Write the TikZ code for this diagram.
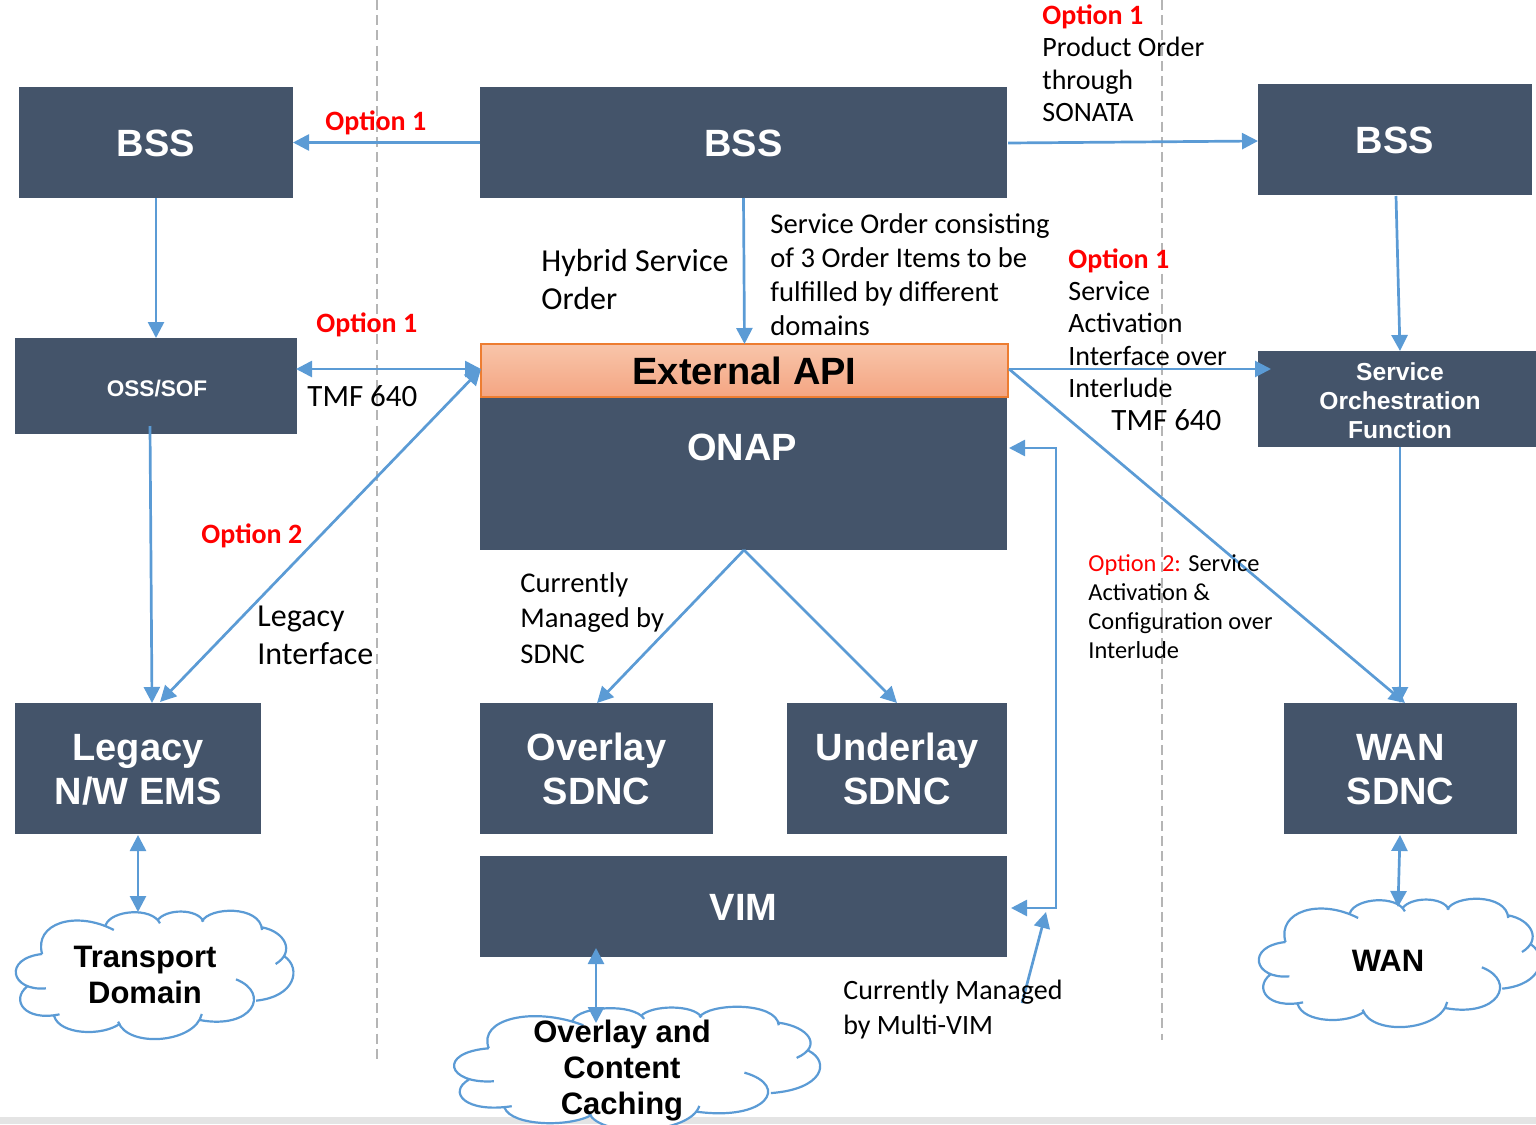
\documentclass[tikz,border=0pt]{standalone}
\usepackage{fontspec}
\setmainfont{Liberation Sans}
\newfontfamily\calfont{Carlito}
\usetikzlibrary{arrows.meta}
\definecolor{boxc}{HTML}{44546A}
\definecolor{linec}{HTML}{5B9BD5}
\definecolor{dashc}{HTML}{B5B5B5}
\definecolor{bandc}{HTML}{E4E4E4}
\definecolor{optred}{HTML}{FF0000}
\definecolor{apiedge}{HTML}{ED7D31}
\definecolor{apitop}{HTML}{F8C5AA}
\definecolor{apibot}{HTML}{F4A582}
\def\cloudsegs#1{(78,222) .. controls (62,130) and (140,90) .. (210,150) #1
 (195,135) .. controls (205,90) and (280,80) .. (295,130) #1
 (290,122) .. controls (305,85) and (365,85) .. (375,125) #1
 (372,125) .. controls (385,80) and (480,75) .. (483,150) #1
 (483,142) .. controls (525,155) and (545,215) .. (508,252) #1
 (525,230) .. controls (555,265) and (545,350) .. (472,362) #1
 (435,298) .. controls (500,340) and (465,450) .. (368,420) #1
 (372,402) .. controls (360,490) and (235,505) .. (218,425) #1
 (222,430) .. controls (190,470) and (110,465) .. (100,408) #1
 (110,403) .. controls (45,425) and (20,360) .. (50,320) #1
 (85,325) .. controls (20,335) and (5,235) .. (78,222)}
\newcommand\mycloud[4]{\begin{scope}[shift={(#1,#2)},xscale=#3,yscale=#4,shift={(-28,-93)}]
 \fill[white] \cloudsegs{--} -- cycle;
 \draw[cloudline] \cloudsegs{};
\end{scope}}
\newcommand\dn[1]{\rule{0pt}{#1}}
\tikzset{
 x=0.5pt,y=-0.5pt,
 box/.style={fill=boxc,text=white,inner sep=0,outer sep=0,align=center,font=\bfseries\fontsize{19}{22}\selectfont},
 cloudline/.style={draw=linec,line width=1.1pt},
 conn/.style={draw=linec,line width=1.35pt,-{Triangle[length=8pt,width=8pt]}},
 both/.style={draw=linec,line width=1.35pt,{Triangle[length=8pt,width=8pt]}-{Triangle[length=8pt,width=8pt]}},
 sep/.style={draw=dashc,line width=1.3pt,dash pattern=on 5pt off 2.6pt},
 txt/.style={anchor=west,align=left,inner sep=0,font=\calfont\fontsize{14}{16.2}\selectfont},
 wide/.style={anchor=west,align=left,inner sep=0,font=\calfont\fontsize{14.3}{17.2}\selectfont},
 big/.style={anchor=west,align=left,inner sep=0,font=\calfont\fontsize{16}{19.2}\selectfont},
 tmf/.style={anchor=west,align=left,inner sep=0,font=\calfont\fontsize{15.5}{19}\selectfont},
 opt/.style={anchor=west,inner sep=0,text=optred,font=\calfont\bfseries\fontsize{14}{17}\selectfont},
 cloudtxt/.style={align=center,inner sep=0,font=\bfseries\fontsize{15.5}{18}\selectfont},
}
\begin{document}
\begin{tikzpicture}
\useasboundingbox (0,0) rectangle (1536,1124);
\clip (0,0) rectangle (1536,1124);
\fill[bandc] (0,1117) rectangle (1536,1124);
% separators
\coordinate (s1a) at (377,0); \coordinate (s1b) at (377,1062);
\coordinate (s2a) at (1162,0); \coordinate (s2b) at (1162,1040);
\draw[sep] (s1a) -- (s1b);
\draw[sep] (s2a) -- (s2b);
% boxes
\node[box,minimum width=137pt,minimum height=55.5pt] (bssl) at (156,142.5) {\dn{14pt}BSS};
\node[box,minimum width=263.5pt,minimum height=55.5pt] (bssm) at (743.5,142.5) {\dn{14pt}BSS};
\node[box,minimum width=137pt,minimum height=55.5pt] (bssr) at (1395,139.5) {\dn{14pt}BSS};
\node[box,minimum width=141pt,minimum height=48pt,font=\bfseries\fontsize{11.3}{14}\selectfont] (oss) at (156,386) {\dn{10.4pt}\hspace{1pt}OSS/SOF};
\node[box,minimum width=263.5pt,minimum height=76.5pt] (onap) at (743.5,473.5) {};
\node[inner sep=0,text=white,font=\bfseries\fontsize{19}{22}\selectfont] (onaplab) at (742,447.5) {ONAP};
\node[inner sep=0,outer sep=0,minimum width=263.5pt,minimum height=26.5pt,draw=apiedge,line width=1.2pt,top color=apitop,bottom color=apibot,font=\bfseries\fontsize{19}{22}\selectfont] (ext) at (744.5,370.5) {External API};
\node[box,minimum width=142pt,minimum height=48pt,font=\bfseries\fontsize{12.3}{14.7}\selectfont] (sof) at (1400,399) {\dn{10.6pt}Service\\Orchestration\\Function};
\node[box,minimum width=123pt,minimum height=65.5pt] (ems) at (138,768.5) {\dn{14pt}Legacy\\N/W EMS};
\node[box,minimum width=116.5pt,minimum height=65.5pt] (ovl) at (596.5,768.5) {\dn{14pt}Overlay\\SDNC};
\node[box,minimum width=110pt,minimum height=65.5pt] (und) at (897,768.5) {\dn{14pt}Underlay\\SDNC};
\node[box,minimum width=116.5pt,minimum height=65.5pt] (wsd) at (1400.5,768.5) {\dn{14pt}WAN\\SDNC};
\node[box,minimum width=263.5pt,minimum height=50.5pt] (vim) at (743.5,906.5) {\dn{14pt}VIM};
% clouds
\mycloud{15}{911}{0.543}{0.3333}
\mycloud{453}{1007}{0.716}{0.32}
\mycloud{1258}{899}{0.55}{0.3333}
\node[cloudtxt] (ctd) at (145,975) {Transport\\Domain};
\node[cloudtxt] (col) at (622,1071) {Overlay and\\Content\\Caching};
\node[cloudtxt] (cwn) at (1388,961) {WAN};
% connector ends
\coordinate (ossbot) at (150,426);
\coordinate (emstop) at (152,703);
\coordinate (emstop2) at (160,702);
\coordinate (exte) at (1009,369);
\coordinate (extw) at (481,369);
\coordinate (ossr) at (296,369);
\coordinate (sofl) at (1271,369);
\coordinate (wsdtop) at (1405,703);
\coordinate (onapb) at (744,550);
\coordinate (ovlt) at (597,703);
\coordinate (undt) at (897,703);
\coordinate (bssrb) at (1396,196);
\coordinate (soft) at (1400,351);
\coordinate (bsse) at (1008,143);
\coordinate (bssw) at (1258,141);
\coordinate (sofb) at (1400,447);
\coordinate (wsdt2) at (1400,703);
\coordinate (ctop) at (138,912);
\coordinate (emsb) at (138,835);
\coordinate (vimb) at (596,948);
\coordinate (ctop2) at (596,1023);
\coordinate (wsdb) at (1400,835);
\coordinate (ctop3) at (1398,907);
\coordinate (vimr) at (1011,908);
\coordinate (elb1) at (1056,908);
\coordinate (elb2) at (1056,448);
\coordinate (onapr) at (1009,448);
\coordinate (mvs) at (1022,1003);
\coordinate (mve) at (1046,912);
% connectors
\draw[conn] (bssm.west) -- (bssl.east);
\draw[conn] (bssl.south) -- (oss.north);
\draw[conn] (bssm.south) -- (ext.north);
\draw[conn] (bsse) -- (bssw);
\draw[conn] (bssrb) -- (soft);
\draw[both] (ossr) -- (extw);
\draw[both] (extw) -- (emstop2);
\draw[conn] (ossbot) -- (emstop);
\draw[conn] (exte) -- (sofl);
\draw[conn] (exte) -- (wsdtop);
\draw[conn] (sofb) -- (wsdt2);
\draw[conn] (onapb) -- (ovlt);
\draw[conn] (onapb) -- (undt);
\draw[both] (emsb) -- (ctop);
\draw[both] (vimb) -- (ctop2);
\draw[both] (wsdb) -- (ctop3);
\draw[both] (vimr) -- (elb1) -- (elb2) -- (onapr);
\draw[conn] (mvs) -- (mve);
% labels
\node[opt] (o1) at (325,123) {Option 1};
\node[opt] (o2) at (316,325) {Option 1};
\node[opt] (o3) at (201,536) {Option 2};
\node[opt] (o4) at (1042,17) {Option 1};
\node[opt] (o5) at (1068,261) {Option 1};
\node[txt] (t1) at (1042,79.5) {Product Order\\through\\SONATA};
\node[big] (t2) at (541,279.5) {Hybrid Service\\Order};
\node[wide,font=\calfont\fontsize{14.3}{17.1}\selectfont] (t3) at (770,274.5) {Service Order consisting\\of 3 Order Items to be\\fulfilled by different\\domains};
\node[txt] (t4) at (1068,339.5) {Service\\Activation\\Interface over\\Interlude};
\node[tmf] (t5) at (1111,420) {TMF 640};
\node[tmf] (t6) at (307,396) {TMF 640};
\node[big] (t7) at (257,635.5) {Legacy\\Interface};
\node[wide,font=\calfont\fontsize{14.3}{17.6}\selectfont] (t8) at (520,618) {Currently\\Managed by\\SDNC};
\node[txt,font=\calfont\fontsize{12.2}{14.5}\selectfont] (t9) at (1088,607) {\textcolor{optred}{Option 2:} Service\\Activation \&\\Configuration over\\Interlude};
\node[txt,font=\calfont\fontsize{14}{17.5}\selectfont] (t10) at (843,1010) {Currently Managed\\by Multi-VIM};
\end{tikzpicture}
\end{document}
